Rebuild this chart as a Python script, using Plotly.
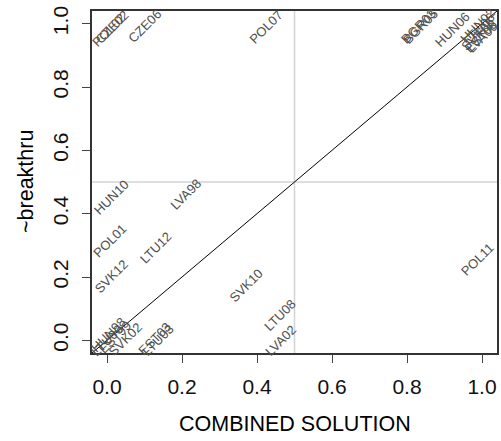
import plotly.graph_objects as go

# Case labels and their coordinates (COMBINED SOLUTION, ~breakthru)
case_labels = ["POL02", "CZE02", "CZE06", "POL07", "BGR03", "BGR05", "HUN06",
               "HUN02", "LTU06", "SVK06", "EST06", "LVA06",
               "HUN10", "LVA98", "POL01", "LTU12", "SVK12", "SVK10",
               "LTU08", "LVA02", "POL11",
               "HUN98", "LTU00", "EST99", "SVK02", "EST03", "LTU03"]
solution_x = [0.004, 0.012, 0.100, 0.423, 0.830, 0.836, 0.921,
              0.988, 0.992, 0.988, 0.996, 1.000,
              0.011, 0.209, 0.009, 0.131, 0.011, 0.371,
              0.460, 0.463, 0.988,
              0.004, 0.000, 0.020, 0.048, 0.128, 0.135]
breakthru_y = [0.978, 0.988, 0.990, 0.988, 0.992, 0.992, 0.982,
               0.995, 0.985, 0.965, 0.960, 0.955,
               0.452, 0.462, 0.314, 0.292, 0.202, 0.173,
               0.079, 0.000, 0.254,
               0.018, 0.000, 0.010, 0.003, 0.005, 0.000]

x_ticks = [0.0, 0.2, 0.4, 0.6, 0.8, 1.0]
x_tick_text = ["0.0", "0.2", "0.4", "0.6", "0.8", "1.0"]
y_ticks = [0.0, 0.2, 0.4, 0.6, 0.8, 1.0]
y_tick_text = ["0.0", "0.2", "0.4", "0.6", "0.8", "1.0"]
threshold = 0.5
axis_range = [-0.04, 1.04]
diag = [-0.1, 1.1]

FONT = "Liberation Sans, Arial, Helvetica, sans-serif"

fig = go.Figure()

# y = x reference line
fig.add_trace(go.Scatter(x=diag, y=diag, mode="lines",
                         line=dict(color="black", width=1),
                         hoverinfo="skip", showlegend=False))

# threshold lines
fig.add_shape(type="line", xref="x", yref="paper", x0=threshold, x1=threshold,
              y0=0, y1=1, line=dict(color="#d3d3d3", width=1.5), layer="below")
fig.add_shape(type="line", xref="paper", yref="y", x0=0, x1=1,
              y0=threshold, y1=threshold, line=dict(color="#d3d3d3", width=1.5), layer="below")

# rotated case labels
for lab, xv, yv in zip(case_labels, solution_x, breakthru_y):
    fig.add_annotation(x=xv, y=yv, xref="x", yref="y", text=lab, showarrow=False,
                       textangle=-45, xanchor="center", yanchor="middle",
                       font=dict(family=FONT, size=13, color="#505050"))

# axis titles
fig.add_annotation(x=0.5, y=0, xref="paper", yref="paper", yshift=-71,
                   text="COMBINED SOLUTION", showarrow=False,
                   xanchor="center", yanchor="middle",
                   font=dict(family=FONT, size=21.5, color="black"))
fig.add_annotation(x=0, y=0.5, xref="paper", yref="paper", xshift=-66,
                   text="~breakthru", showarrow=False, textangle=-90,
                   xanchor="center", yanchor="middle",
                   font=dict(family=FONT, size=21.5, color="black"))

axis_common = dict(range=axis_range, showgrid=False, zeroline=False,
                   showline=True, linecolor="#333333", linewidth=1.5, mirror=True,
                   ticks="outside", ticklen=8, tickwidth=1.2, tickcolor="#444444",
                   tickfont=dict(family=FONT, size=21, color="#111111"))

fig.update_xaxes(tickvals=x_ticks, ticktext=x_tick_text, ticklabelstandoff=6, **axis_common)
fig.update_yaxes(tickvals=y_ticks, ticktext=y_tick_text, tickangle=-90,
                 ticklabelstandoff=6, **axis_common)

fig.update_layout(width=501, height=441,
                  margin=dict(l=92, r=4, t=11, b=88, autoexpand=False),
                  paper_bgcolor="white", plot_bgcolor="white",
                  showlegend=False)

fig.write_html("out.html", config={"displayModeBar": False},
               post_script="document.body.style.margin='0';document.body.style.overflow='hidden';")
